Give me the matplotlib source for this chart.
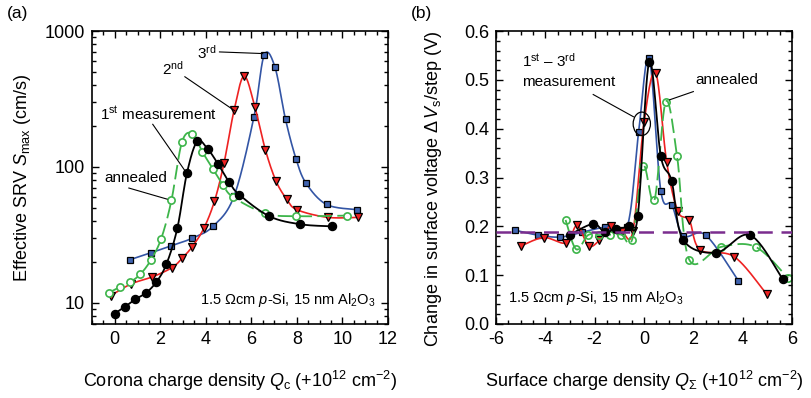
import numpy as np
import matplotlib
matplotlib.use("Agg")
from matplotlib import pyplot as plt
from matplotlib.patches import Ellipse
from matplotlib.ticker import MultipleLocator, LogLocator, NullFormatter, FixedLocator

plt.rcParams['font.family'] = ['Liberation Sans', 'DejaVu Sans']
plt.rcParams['mathtext.fontset'] = 'custom'
plt.rcParams['mathtext.rm'] = 'Liberation Sans'
plt.rcParams['mathtext.it'] = 'Liberation Sans:italic'
plt.rcParams['mathtext.sf'] = 'Liberation Sans'
plt.rcParams['axes.unicode_minus'] = False

# (a) SRV vs corona charge
a1_x = [0, 0.44, 0.89, 1.36, 1.82, 2.27, 2.75, 3.17, 3.62, 4.09, 4.54, 5.01, 5.47, 6.79, 8.15, 9.52]
a1_y = [8.35, 9.35, 10.6, 11.8, 14.2, 19.3, 35.5, 90, 154, 135, 105, 78, 62.5, 43.4, 37.9, 36.6]
a2_x = [-0.18, 0.72, 1.64, 2.52, 2.97, 3.41, 3.91, 4.38, 4.8, 5.24, 5.68, 6.15, 6.62, 7.08, 7.55, 8.0, 9.35, 10.7]
a2_y = [11.3, 13.8, 15.5, 18.2, 21.4, 26, 35.3, 56, 107, 261, 466, 278, 133, 79, 58, 48.5, 42.6, 42.6]
a3_x = [0.67, 1.6, 2.49, 3.38, 4.31, 5.24, 6.11, 6.56, 7.03, 7.5, 7.96, 8.4, 9.3, 10.64]
a3_y = [20.8, 23.4, 26.4, 29.8, 36.5, 61, 232, 662, 547, 224, 115, 76, 53, 48.5]
aa_x = [-0.25, 0.22, 0.67, 1.13, 1.58, 2.04, 2.49, 2.95, 3.41, 3.85, 4.31, 4.75, 5.2, 6.62, 7.94, 10.18]
aa_y = [11.9, 13.1, 14.2, 16.3, 20.6, 29.7, 56.8, 152, 176, 129, 97, 74, 60, 45.5, 43.4, 43.9]

# (b) voltage step vs surface charge
b1_x = [-3.0, -2.06, -1.6, -1.15, -0.62, -0.25, 0.21, 0.68, 1.12, 1.58, 2.92, 4.3, 5.62]
b1_y = [0.183, 0.205, 0.188, 0.195, 0.2, 0.222, 0.537, 0.344, 0.293, 0.173, 0.146, 0.182, 0.092]
b2_x = [-4.98, -4.06, -3.16, -2.71, -2.25, -1.82, -1.35, -0.9, -0.45, 0.0, 0.47, 0.92, 1.37, 1.84, 2.27, 3.65, 4.97]
b2_y = [0.16, 0.177, 0.166, 0.202, 0.16, 0.171, 0.201, 0.19, 0.19, 0.413, 0.515, 0.331, 0.231, 0.212, 0.152, 0.138, 0.061]
b3_x = [-5.22, -4.3, -3.39, -2.5, -1.6, -0.69, -0.22, 0.21, 0.68, 1.13, 1.59, 2.5, 3.82]
b3_y = [0.192, 0.182, 0.178, 0.188, 0.198, 0.198, 0.393, 0.545, 0.273, 0.244, 0.181, 0.182, 0.089]
ba_x = [-3.18, -2.75, -2.27, -1.81, -1.37, -0.92, -0.48, -0.04, 0.42, 0.88, 1.34, 1.83, 3.13, 4.52, 5.84]
ba_y = [0.213, 0.153, 0.182, 0.182, 0.183, 0.183, 0.173, 0.324, 0.253, 0.455, 0.344, 0.132, 0.158, 0.158, 0.094]
b_ref = 0.188

c_black = 'black'
c_red = '#ee2222'
c_blue = '#3355a5'
c_sq = '#3f63b0'
c_green = '#3db54a'


def smooth(x, y, n=24):
    # catmull-rom curve through the points
    pts = np.column_stack([x, y]).astype(float)
    p = np.vstack([pts[0], pts, pts[-1]])
    t = np.linspace(0, 1, n, endpoint=False)[:, None]
    out = []
    for i in range(1, len(p) - 2):
        p0, p1, p2, p3 = p[i - 1], p[i], p[i + 1], p[i + 2]
        seg = 0.5 * (2 * p1 + (-p0 + p2) * t + (2 * p0 - 5 * p1 + 4 * p2 - p3) * t ** 2
                     + (-p0 + 3 * p1 - 3 * p2 + p3) * t ** 3)
        out.append(seg)
    out.append(pts[-1:])
    s = np.vstack(out)
    return s[:, 0], s[:, 1]


def curve(x, y, log=False):
    if log:
        sx, sy = smooth(x, np.log10(y))
        return sx, 10 ** sy
    return smooth(x, y)


fig = plt.figure(figsize=(8.11, 3.98), dpi=100)
ax1 = fig.add_axes([0.1134, 0.186, 0.365, 0.736])
ax2 = fig.add_axes([0.6116, 0.186, 0.365, 0.736])

# curves + markers, both panels
for ax, xs, ys, log in [(ax1, (a3_x, a2_x, aa_x, a1_x), (a3_y, a2_y, aa_y, a1_y), True),
                        (ax2, (b3_x, b2_x, ba_x, b1_x), (b3_y, b2_y, ba_y, b1_y), False)]:
    sx, sy = curve(xs[0], ys[0], log)
    ax.plot(sx, sy, color=c_blue, lw=1.2)
    ax.plot(xs[0], ys[0], 's', ms=5, mfc=c_sq, mec='black', mew=0.9)
    sx, sy = curve(xs[1], ys[1], log)
    ax.plot(sx, sy, color=c_red, lw=1.2)
    ax.plot(xs[1], ys[1], 'v', ms=5.8, mfc=c_red, mec='black', mew=0.9)
    sx, sy = curve(xs[2], ys[2], log)
    ax.plot(sx, sy, color=c_green, lw=1.3, dashes=(8, 3))
    ax.plot(xs[2], ys[2], 'o', ms=5.2, mfc='white' if log else 'none', mec=c_green, mew=1.2)
    sx, sy = curve(xs[3], ys[3], log)
    ax.plot(sx, sy, color=c_black, lw=1.3)
    ax.plot(xs[3], ys[3], 'o', ms=5.8, mfc='black', mec='black')

# ---- panel (a)
ax1.set_yscale('log')
ax1.set_xlim(-1, 12)
ax1.set_ylim(7, 1000)
ax1.xaxis.set_major_locator(MultipleLocator(2))
ax1.xaxis.set_minor_locator(MultipleLocator(0.5))
ax1.yaxis.set_major_locator(FixedLocator([10, 100, 1000]))
ax1.yaxis.set_major_formatter(plt.FuncFormatter(lambda v, p: '%d' % v))
ax1.yaxis.set_minor_locator(LogLocator(base=10, subs=np.arange(2, 10)))
ax1.yaxis.set_minor_formatter(NullFormatter())
ax1.set_xlabel(r'Corona charge density $Q_{\rm c}$ (+10$^{12}$ cm$^{-2}$)', fontsize=13)
ax1.set_ylabel(r'Effective SRV $S_{\rm max}$ (cm/s)', fontsize=13)
ax1.xaxis.set_label_coords(0.5, -0.155)
ax1.yaxis.set_label_coords(-0.2, 0.5)

ax1.text(4.05, 690, '3$^{\\rm rd}$', fontsize=11, ha='center', va='center')
ax1.plot([4.6, 6.5], [702, 683], color='black', lw=0.8)
ax1.text(2.55, 528, '2$^{\\rm nd}$', fontsize=11, ha='center', va='center')
ax1.plot([3.08, 5.27], [461, 259], color='black', lw=0.8)
ax1.text(1.9, 248, '1$^{\\rm st}$ measurement', fontsize=11, ha='center', va='center')
ax1.plot([1.67, 3.12], [206, 92], color='black', lw=0.8)
ax1.text(0.92, 83, 'annealed', fontsize=11, ha='center', va='center')
ax1.plot([0.62, 2.3], [70, 58], color='black', lw=0.8)
ax1.text(11.45, 10.5, r'1.5 $\Omega$cm $p$-Si, 15 nm Al$_2$O$_3$', fontsize=10.5,
         ha='right', va='center')

# ---- panel (b)
ax2.plot([-6, 6], [b_ref, b_ref], color='#7b2d8e', lw=1.8, dashes=(6, 3.5), zorder=5)
ax2.set_xlim(-6, 6)
ax2.set_ylim(0, 0.6)
ax2.xaxis.set_major_locator(MultipleLocator(2))
ax2.xaxis.set_minor_locator(MultipleLocator(0.5))
ax2.yaxis.set_major_locator(MultipleLocator(0.1))
ax2.yaxis.set_minor_locator(MultipleLocator(0.02))
ax2.yaxis.set_major_formatter(plt.FuncFormatter(lambda v, p: '%.1f' % v))
ax2.xaxis.set_major_formatter(plt.FuncFormatter(lambda v, p: '%d' % round(v)))
ax2.set_xlabel(r'Surface charge density $Q_{\Sigma}$ (+10$^{12}$ cm$^{-2}$)', fontsize=13)
ax2.set_ylabel(r'Change in surface voltage $\Delta\,V_{\rm s}$/step (V)', fontsize=13)
ax2.xaxis.set_label_coords(0.5, -0.155)
ax2.yaxis.set_label_coords(-0.176, 0.46)

ax2.text(-4.95, 0.52, '1$^{\\rm st}$ \u2013 3$^{\\rm rd}$\nmeasurement', fontsize=11,
         ha='left', va='center', linespacing=1.5)
ax2.plot([-2.06, -0.43], [0.47, 0.4245], color='black', lw=0.8)
ax2.add_patch(Ellipse((-0.09, 0.41), 0.7, 0.048, fill=False, ec='black', lw=0.9, zorder=6))
ax2.text(2.07, 0.5, 'annealed', fontsize=11, ha='left', va='center')
ax2.plot([2.0, 1.03], [0.476, 0.459], color='black', lw=0.8)
ax2.text(-5.5, 0.053, r'1.5 $\Omega$cm $p$-Si, 15 nm Al$_2$O$_3$', fontsize=10.5,
         ha='left', va='center')

for ax in (ax1, ax2):
    ax.tick_params(which='both', direction='in', top=True, right=True, labelsize=13)
    ax.tick_params(which='major', length=5, width=1, pad=5)
    ax.tick_params(which='minor', length=3, width=1)
    for s in ax.spines.values():
        s.set_linewidth(1.2)

fig.text(0.008, 0.955, '(a)', fontsize=12.5)
fig.text(0.507, 0.955, '(b)', fontsize=12.5)

fig.savefig('out.png', dpi=100)
